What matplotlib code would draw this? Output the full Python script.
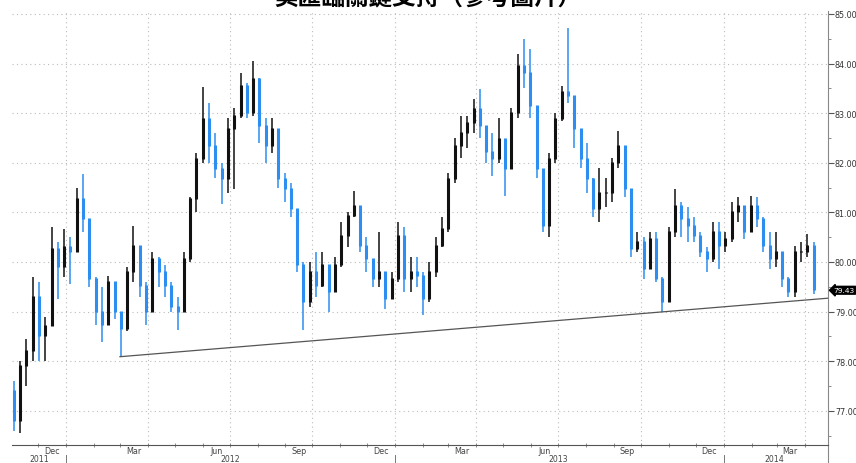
import matplotlib
matplotlib.use("Agg")
import matplotlib.pyplot as plt
import matplotlib.dates as mdates
import matplotlib.transforms as mtransforms
import pandas as pd
import numpy as np

# weekly bars (US dollar index)
first_open = 77.4
closes = [76.8, 77.9, 78.2, 79.3, 78.5, 78.7, 80.26, 79.9, 80.3, 80.2,
          81.27, 80.87, 79.66, 79.0, 78.72, 79.6, 79.0, 78.65, 79.8, 80.33,
          79.52, 79.0, 80.06, 79.8, 79.52, 79.1, 79.0, 80.06, 81.27, 82.07,
          82.88, 82.34, 81.87, 81.67, 82.68, 82.95, 83.55, 83.0, 83.68, 82.75,
          82.34, 82.68, 81.67, 81.47, 81.07, 79.93, 79.19, 79.8, 79.52, 79.93,
          79.39, 79.93, 80.53, 80.93, 81.13, 80.33, 80.06, 79.66, 79.8, 79.25,
          79.66, 80.53, 79.66, 79.8, 79.72, 79.26, 79.8, 80.33, 80.66, 81.67,
          82.34, 82.6, 82.81, 83.08, 82.75, 82.21, 82.07, 82.48, 81.87, 83.01,
          83.95, 83.82, 83.15, 81.87, 80.73, 82.07, 82.88, 83.42, 83.35, 82.68,
          82.07, 81.67, 81.07, 81.4, 81.4, 82.0, 82.34, 81.47, 80.26, 80.4,
          79.86, 80.46, 79.66, 79.19, 80.6, 81.13, 80.87, 80.73, 80.53, 80.2,
          80.06, 80.6, 80.33, 80.46, 81.0, 81.13, 80.6, 81.13, 80.87, 80.33,
          80.06, 80.2, 79.66, 79.39, 80.2, 80.2, 80.33, 79.43]
highs = [77.6, 78.0, 78.45, 79.7, 79.6, 78.9, 80.7, 80.4, 80.66, 80.5,
         81.5, 81.77, 80.66, 79.7, 79.5, 79.72, 79.4, 79.0, 79.9, 80.73,
         80.1, 79.6, 80.2, 80.1, 79.93, 79.6, 79.3, 80.2, 81.3, 82.2,
         83.52, 83.2, 82.6, 82.0, 82.9, 83.1, 83.82, 83.6, 84.05, 83.7,
         82.9, 82.9, 82.5, 81.8, 81.6, 80.9, 80.0, 80.0, 80.2, 80.2,
         79.9, 80.1, 80.8, 81.0, 81.44, 81.1, 80.5, 80.0, 80.6, 79.8,
         79.8, 80.8, 80.7, 80.1, 80.1, 79.8, 80.0, 80.5, 80.9, 81.8,
         82.5, 82.95, 82.95, 83.28, 83.48, 82.75, 82.6, 82.9, 82.4, 83.1,
         84.2, 84.49, 84.3, 83.0, 81.4, 82.2, 83.0, 83.55, 84.72, 83.35,
         82.6, 82.4, 81.7, 81.9, 81.7, 82.1, 82.64, 82.1, 81.2, 80.6,
         80.5, 80.6, 80.6, 79.7, 80.7, 81.47, 81.2, 81.1, 80.9, 80.6,
         80.3, 80.8, 80.8, 80.6, 81.2, 81.3, 81.1, 81.33, 81.3, 80.9,
         80.6, 80.6, 80.2, 79.7, 80.33, 80.4, 80.56, 80.4]
lows = [76.6, 76.55, 77.5, 78.0, 78.0, 78.0, 78.7, 79.25, 79.7, 79.56,
        80.2, 80.6, 79.5, 78.72, 78.38, 78.8, 78.85, 78.09, 78.6, 79.6,
        79.3, 78.72, 79.0, 79.5, 79.3, 79.0, 78.62, 79.0, 80.0, 81.0,
        82.0, 82.0, 81.7, 81.17, 81.4, 81.47, 82.9, 82.9, 82.95, 82.4,
        82.0, 82.2, 81.5, 81.2, 80.9, 79.8, 78.62, 79.1, 79.3, 79.5,
        78.99, 79.4, 79.9, 80.3, 80.9, 80.2, 79.8, 79.5, 79.5, 79.05,
        79.25, 79.6, 79.4, 79.4, 79.5, 78.93, 79.2, 79.7, 80.3, 80.6,
        81.6, 82.1, 82.3, 82.6, 82.5, 82.0, 81.74, 82.0, 81.34, 81.9,
        82.9, 83.5, 82.9, 81.7, 80.6, 80.5, 82.0, 82.85, 83.2, 82.3,
        81.9, 81.4, 80.9, 80.8, 81.1, 81.2, 81.9, 81.3, 80.1, 80.2,
        79.66, 79.9, 79.6, 78.99, 79.3, 80.5, 80.5, 80.4, 80.4, 80.1,
        79.8, 80.0, 79.86, 80.2, 80.4, 80.8, 80.46, 80.6, 80.7, 80.2,
        79.86, 79.9, 79.5, 79.29, 79.3, 80.0, 80.1, 79.35]
dates = pd.date_range("2011-11-04", periods=len(closes), freq="7D")

# support line
trend_dates = pd.to_datetime(["2012-03-01", "2014-04-27"])
trend_vals = [78.09, 79.27]
last_value = 79.43

month_labels = ["Dec", "Mar", "Jun", "Sep", "Dec", "Mar", "Jun", "Sep", "Dec", "Mar"]
month_pos = pd.to_datetime(["2011-12-16", "2012-03-16", "2012-06-16", "2012-09-16",
                            "2012-12-16", "2013-03-16", "2013-06-16", "2013-09-16",
                            "2013-12-16", "2014-03-16"])
year_labels = ["2011", "2012", "2013", "2014"]
year_pos = pd.to_datetime(["2011-12-02", "2012-07-01", "2013-07-01", "2014-02-26"])
year_breaks = pd.to_datetime(["2012-01-01", "2013-01-01", "2014-01-01"])

BLUE = "#2b8ef0"
BLACK = "#111111"

fig = plt.figure(figsize=(8.56, 4.64), dpi=100)
ax = fig.add_axes([12 / 856, 1 - 446 / 464, 816 / 856, 434 / 464])

opens = [first_open] + closes[:-1]
x = mdates.date2num(dates)
for xi, o, c, h, l in zip(x, opens, closes, highs, lows):
    col = BLACK if c >= o else BLUE
    ax.vlines(xi, min(l, o, c), max(h, o, c), color=col, lw=1.1)
    ax.vlines(xi, min(o, c), max(o, c) + 0.02, color=col, lw=2.2)

ax.plot(trend_dates, trend_vals, color="#555555", lw=0.9)

ax.set_xlim(pd.Timestamp("2011-11-02"), pd.Timestamp("2014-04-27"))
ax.set_ylim(76.31, 85.06)

# axes styling
for s in ["top", "left"]:
    ax.spines[s].set_visible(False)
ax.spines["right"].set_color("#888888")
ax.spines["right"].set_linewidth(0.8)
ax.spines["bottom"].set_color("#555555")
ax.spines["bottom"].set_linewidth(0.8)

ax.yaxis.tick_right()
ax.set_yticks(np.arange(77, 86, 1))
ax.set_yticks(np.arange(76.5, 85.5, 1), minor=True)
ax.set_yticklabels([f"{v:.2f}" for v in np.arange(77, 86, 1)])
ax.tick_params(axis="y", which="major", direction="out", length=4, width=0.8,
               color="#555555", labelsize=5.8, labelcolor="#333333", pad=1)
ax.tick_params(axis="y", which="minor", direction="out", length=2, width=0.6,
               color="#777777")

ax.xaxis.set_major_locator(mdates.MonthLocator(bymonth=[1, 4, 7, 10]))
ax.xaxis.set_minor_locator(mdates.MonthLocator())
ax.xaxis.set_major_formatter(plt.NullFormatter())
ax.tick_params(axis="x", which="both", direction="inout", length=3, width=0.6,
               color="#777777")

ax.grid(True, which="major", color="#bbbbbb", linestyle=(0, (1, 3)), lw=0.8)

trans = mtransforms.blended_transform_factory(ax.transData, ax.transAxes)
for d, lab in zip(month_pos, month_labels):
    ax.text(d, -1 / 434, lab, transform=trans, ha="center", va="top",
            fontsize=5.8, color="#444444", clip_on=False)
for d, lab in zip(year_pos, year_labels):
    ax.text(d, -18 / 434, lab, transform=trans, ha="center", va="bottom",
            fontsize=5.6, color="#444444", clip_on=False)
for d in year_breaks:
    ax.plot([d, d], [-10 / 434, -18 / 434], transform=trans, color="#777777",
            lw=0.7, clip_on=False)
ax.plot([1, 1], [0, -18 / 434], transform=ax.transAxes, color="#888888",
        lw=0.8, clip_on=False)

ax.annotate(f"{last_value:.2f}", xy=(1.0, last_value),
            xycoords=("axes fraction", "data"), xytext=(4, 0),
            textcoords="offset points", ha="left", va="center",
            fontsize=5.4, color="white", annotation_clip=False,
            bbox=dict(boxstyle="larrow,pad=0.12", fc="black", ec="black"))

fig.text(0.5, 1 - 5 / 464, "美匯臨關鍵支持（參考圖片）", ha="center",
         va="baseline", fontsize=17, fontweight="bold",
         family=["Noto Sans CJK TC", "DejaVu Sans"])

fig.savefig("out.png", dpi=100)
